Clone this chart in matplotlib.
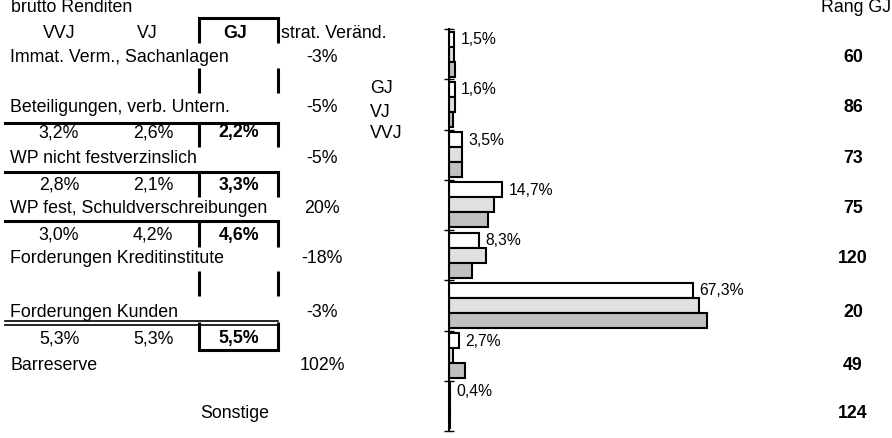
import matplotlib
matplotlib.use("Agg")
import matplotlib.pyplot as plt
import numpy as np

plt.rcParams['font.family'] = ['Liberation Sans', 'DejaVu Sans']
plt.rcParams['font.size'] = 12.8

# ---------------- data ----------------
categories = ["Immat. Verm., Sachanlagen", "Beteiligungen, verb. Untern.",
              "WP nicht festverzinslich", "WP fest, Schuldverschreibungen",
              "Forderungen Kreditinstitute", "Forderungen Kunden",
              "Barreserve", "Sonstige"]
strat_change = ["-3%", "-5%", "-5%", "20%", "-18%", "-3%", "102%", ""]
rank_gj = ["60", "86", "73", "75", "120", "20", "49", "124"]

share_gj = [1.5, 1.6, 3.5, 14.7, 8.3, 67.3, 2.7, 0.4]
share_vj = [1.5, 1.6, 3.6, 12.3, 10.1, 69.0, 1.2, 0.4]
share_vvj = [1.6, 1.1, 3.7, 10.9, 6.3, 71.4, 4.4, 0.2]

series_names = ["GJ", "VJ", "VVJ"]
series_colors = ["#ffffff", "#e0e0e0", "#c0c0c0"]

# brutto Renditen (rows below the category, "" = empty row)
ret_vvj = ["", "3,2%", "2,8%", "3,0%", "", "5,3%"]
ret_vj = ["", "2,6%", "2,1%", "4,2%", "", "5,3%"]
ret_gj = ["", "2,2%", "3,3%", "4,6%", "", "5,5%"]

# ---------------- figure ----------------
W, H = 892, 438
fig = plt.figure(figsize=(W / 100, H / 100), dpi=100)

# overlay axes in pixel coordinates for the table part
ov = fig.add_axes([0, 0, 1, 1])
ov.set_xlim(0, W)
ov.set_ylim(H, 0)
ov.axis('off')

# layout (pixels)
x_label = 10
x_vvj, x_vj_head, x_vj, x_gj = 59, 147, 153, 239
x_strat = 322
x_rank = 853
base_cat = [62, 112, 163, 213, 263, 317, 370, 418]
base_ret = [87, 137, 190, 240, 289, 343]
ret_seg = [(68, 93), (122, 147), (172, 197), (221, 247), (271, 296), (322, 351)]
gl, gr = 199, 278
lw_thick = 2.2

ov.text(11, 12, "brutto Renditen", ha='left', va='baseline')
ov.text(891, 12, "Rang GJ", ha='right', va='baseline')
ov.text(x_vvj, 38, "VVJ", ha='center', va='baseline')
ov.text(x_vj_head, 38, "VJ", ha='center', va='baseline')
ov.text(x_gj - 4, 38, "GJ", ha='center', va='baseline', fontweight='bold')
ov.text(281, 38, "strat. Veränd.", ha='left', va='baseline')

# GJ header box
ov.plot([gl, gr], [18, 18], color='k', lw=lw_thick, solid_capstyle='projecting')
for xx in (gl, gr):
    ov.plot([xx, xx], [18, 43], color='k', lw=lw_thick, solid_capstyle='butt')

for i, cat in enumerate(categories):
    b = base_cat[i]
    if cat == "Sonstige":
        ov.text(235, b, cat, ha='center', va='baseline')
    else:
        ov.text(x_label, b, cat, ha='left', va='baseline')
    if strat_change[i]:
        ov.text(x_strat, b, strat_change[i], ha='center', va='baseline')
    ov.text(x_rank, b, rank_gj[i], ha='center', va='baseline', fontweight='bold')

for j in range(len(ret_gj)):
    b = base_ret[j]
    if ret_vvj[j]:
        ov.text(x_vvj, b, ret_vvj[j], ha='center', va='baseline')
        ov.text(x_vj, b, ret_vj[j], ha='center', va='baseline')
        ov.text(x_gj, b, ret_gj[j], ha='center', va='baseline', fontweight='bold')
    y0, y1 = ret_seg[j]
    for xx in (gl, gr):
        ov.plot([xx, xx], [y0, y1], color='k', lw=lw_thick, solid_capstyle='butt')

# horizontal separators
for yy in (123, 172, 221):
    ov.plot([5, gr], [yy, yy], color='k', lw=lw_thick, solid_capstyle='projecting')
for yy in (321, 324.5):
    ov.plot([5, gr], [yy, yy], color='k', lw=1.2, solid_capstyle='projecting')
ov.plot([gl, gr], [350, 350], color='k', lw=lw_thick, solid_capstyle='projecting')

# legend text
for name, yb in zip(series_names, [93, 117, 138]):
    ov.text(370, yb, name, ha='left', va='baseline')

# ---------------- bar chart ----------------
ax_left, ax_top, ax_bot = 449, 29, 431
xmax = 80
px_per_unit = 3.62
ax = fig.add_axes([ax_left / W, 1 - ax_bot / H, xmax * px_per_unit / W, (ax_bot - ax_top) / H])
ax.patch.set_alpha(0)
n = len(categories)
y = np.arange(n)
bh = 0.3
for k, (vals, col) in enumerate(zip([share_gj, share_vj, share_vvj], series_colors)):
    ax.barh(y + (k - 1) * bh, vals, height=bh, color=col, edgecolor='black', linewidth=1.5)
for i, v in enumerate(share_gj):
    ax.annotate(f"{v:.1f}".replace('.', ',') + "%", xy=(v, y[i] - bh), xytext=(4.5, -0.5),
                textcoords='offset points', ha='left', va='center', fontsize=11.3)
ax.set_xlim(0, xmax)
ax.set_ylim(n - 0.5, -0.5)
ax.set_yticks(np.arange(n + 1) - 0.5)
ax.set_yticklabels([])
ax.tick_params(axis='y', direction='inout', length=7, width=1, color='black')
ax.set_xticks([])
for s in ('top', 'right', 'bottom'):
    ax.spines[s].set_visible(False)
ax.spines['left'].set_linewidth(1.5)
ax.spines['left'].set_color('black')

fig.savefig("out.png", dpi=100)
